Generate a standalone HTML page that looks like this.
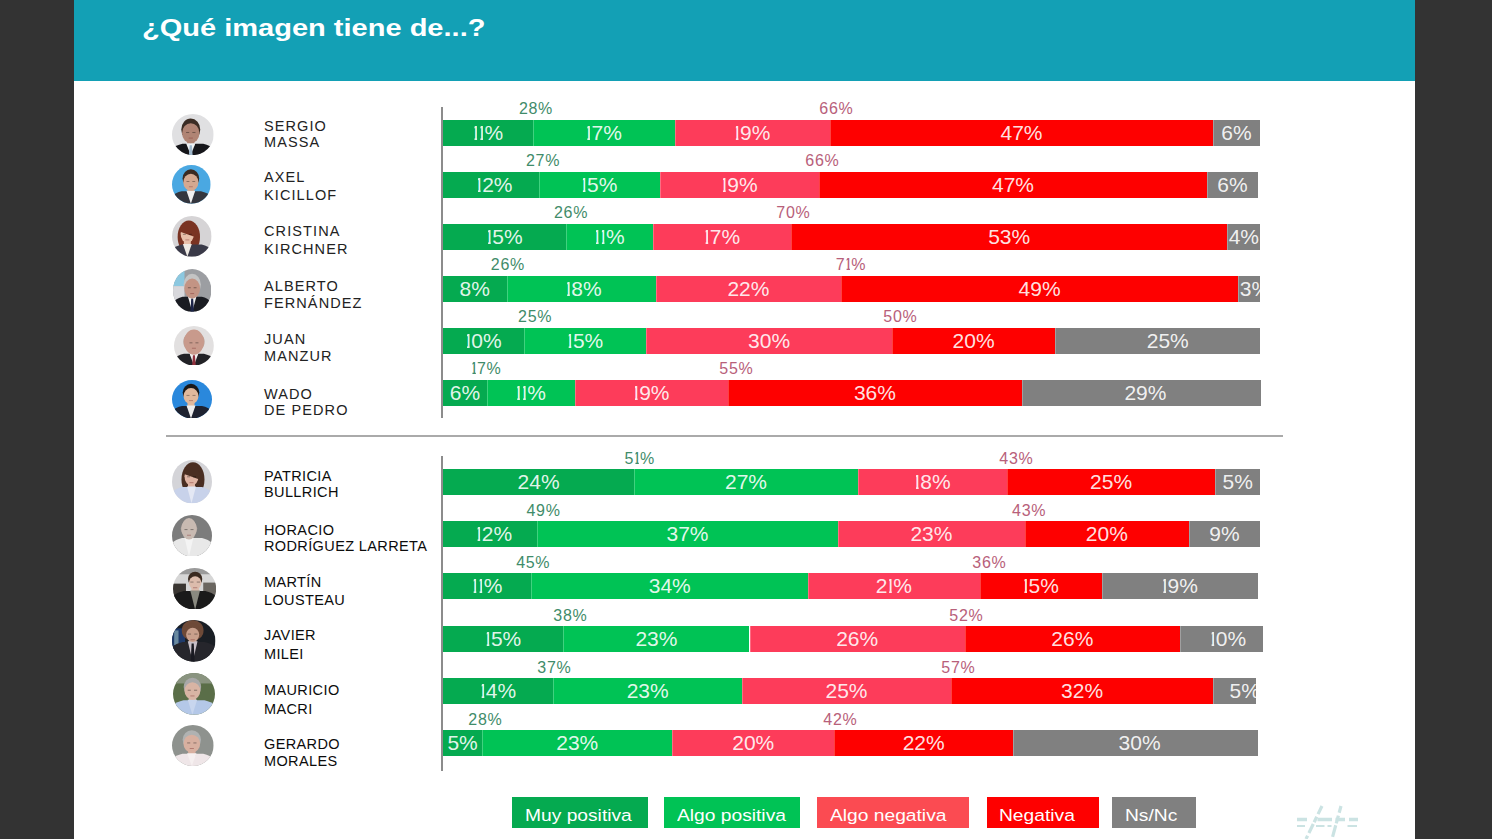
<!DOCTYPE html>
<html><head><meta charset="utf-8"><title>Imagen</title>
<style>
html,body{margin:0;padding:0}
body{width:1492px;height:839px;background:#333333;position:relative;overflow:hidden;font-family:"Liberation Sans",sans-serif}
#slide{position:absolute;left:74px;top:0;width:1341px;height:839px;background:#ffffff}
#hdr{position:absolute;left:74px;top:0;width:1341px;height:81px;background:#13a0b5}
#title{position:absolute;left:141.6px;top:13px;color:#fff;font-weight:bold;font-size:24px;line-height:30px;white-space:nowrap}
#title span{display:inline-block;transform:scaleX(1.209);transform-origin:0 0}
.ax{position:absolute;left:441px;width:2px;background:#8c8c8c}
#sep{position:absolute;left:166px;top:435px;width:1117px;height:2px;background:#aaaaaa}
.seg{position:absolute;height:26px;overflow:hidden;color:rgba(255,255,255,0.9);font-size:21px;line-height:26px;text-align:center;white-space:nowrap}
.seg i,.tl i{font-style:normal;display:inline-block;clip-path:inset(0 0.21em 0 0.222em);margin:0 -0.136em 0 -0.14em}
.tl{position:absolute;width:80px;text-align:center;font-size:16px;line-height:20px;white-space:nowrap;letter-spacing:0.7px;text-indent:0.7px}
.tl.g{color:#3f8c6a}
.tl.r{color:#b8607a}
.nm{position:absolute;left:264px;font-size:14.5px;line-height:14px;white-space:nowrap}
.nm.m{color:#222;letter-spacing:1.1px}
.nm.a{color:#0c0c0c;letter-spacing:0.38px}
.ph{position:absolute}
.lg{position:absolute;top:797px;height:31px;line-height:31px;color:#fff;font-size:16.3px;white-space:nowrap}
.lg span{position:absolute;top:2.7px;display:inline-block;transform:scaleX(1.18);transform-origin:0 0}
</style></head><body>
<div id="slide"></div>
<div id="hdr"></div>
<div id="title"><span>¿Qué imagen tiene de...?</span></div>
<div class="ax" style="top:107px;height:311px"></div>
<div class="ax" style="top:456px;height:315px"></div>
<div id="sep"></div>
<div class="seg" style="left:443px;top:120px;width:90px;background:#05aa50"><i>1</i><i>1</i>%</div>
<div class="seg" style="left:533px;top:120px;width:141.5px;background:#00c355;box-shadow:inset 1px 0 0 rgba(255,255,255,0.25)"><i>1</i>7%</div>
<div class="seg" style="left:674.5px;top:120px;width:155.5px;background:#fd3c5a;box-shadow:inset 1px 0 0 rgba(255,255,255,0.25)"><i>1</i>9%</div>
<div class="seg" style="left:830px;top:120px;width:383px;background:#fe0000;box-shadow:inset 1px 0 0 rgba(255,255,255,0.25)">47%</div>
<div class="seg" style="left:1213px;top:120px;width:47px;background:#808080;box-shadow:inset 1px 0 0 rgba(255,255,255,0.25)">6%</div>
<div class="tl g" style="left:495.6px;top:99px">28%</div>
<div class="tl r" style="left:796px;top:99px">66%</div>
<div class="seg" style="left:443px;top:172px;width:95.6px;background:#05aa50"><span style="position:absolute;left:51.4px;top:0;transform:translateX(-50%)"><i>1</i>2%</span></div>
<div class="seg" style="left:538.6px;top:172px;width:121.4px;background:#00c355;box-shadow:inset 1px 0 0 rgba(255,255,255,0.25)"><i>1</i>5%</div>
<div class="seg" style="left:660px;top:172px;width:159px;background:#fd3c5a;box-shadow:inset 1px 0 0 rgba(255,255,255,0.25)"><i>1</i>9%</div>
<div class="seg" style="left:819px;top:172px;width:388px;background:#fe0000;box-shadow:inset 1px 0 0 rgba(255,255,255,0.25)">47%</div>
<div class="seg" style="left:1207px;top:172px;width:51px;background:#808080;box-shadow:inset 1px 0 0 rgba(255,255,255,0.25)">6%</div>
<div class="tl g" style="left:502.7px;top:151px">27%</div>
<div class="tl r" style="left:782px;top:151px">66%</div>
<div class="seg" style="left:443px;top:224px;width:123px;background:#05aa50"><i>1</i>5%</div>
<div class="seg" style="left:566px;top:224px;width:87px;background:#00c355;box-shadow:inset 1px 0 0 rgba(255,255,255,0.25)"><i>1</i><i>1</i>%</div>
<div class="seg" style="left:653px;top:224px;width:138px;background:#fd3c5a;box-shadow:inset 1px 0 0 rgba(255,255,255,0.25)"><i>1</i>7%</div>
<div class="seg" style="left:791px;top:224px;width:436.4px;background:#fe0000;box-shadow:inset 1px 0 0 rgba(255,255,255,0.25)">53%</div>
<div class="seg" style="left:1227.4px;top:224px;width:32.9px;background:#808080;box-shadow:inset 1px 0 0 rgba(255,255,255,0.25)">4%</div>
<div class="tl g" style="left:530.7px;top:203px">26%</div>
<div class="tl r" style="left:753px;top:203px">70%</div>
<div class="seg" style="left:443px;top:276px;width:63.6px;background:#05aa50">8%</div>
<div class="seg" style="left:506.6px;top:276px;width:149.4px;background:#00c355;box-shadow:inset 1px 0 0 rgba(255,255,255,0.25)"><span style="position:absolute;left:77px;top:0;transform:translateX(-50%)"><i>1</i>8%</span></div>
<div class="seg" style="left:656px;top:276px;width:184.8px;background:#fd3c5a;box-shadow:inset 1px 0 0 rgba(255,255,255,0.25)">22%</div>
<div class="seg" style="left:840.8px;top:276px;width:397.5px;background:#fe0000;box-shadow:inset 1px 0 0 rgba(255,255,255,0.25)">49%</div>
<div class="seg" style="left:1238.3px;top:276px;width:22px;background:#808080;box-shadow:inset 1px 0 0 rgba(255,255,255,0.25);text-align:left"><span style="margin-left:1.5px">3%</span></div>
<div class="tl g" style="left:467.5px;top:255px">26%</div>
<div class="tl r" style="left:810.5px;top:255px">7<i>1</i>%</div>
<div class="seg" style="left:443px;top:328px;width:80.9px;background:#05aa50"><i>1</i>0%</div>
<div class="seg" style="left:523.9px;top:328px;width:122.5px;background:#00c355;box-shadow:inset 1px 0 0 rgba(255,255,255,0.25)"><i>1</i>5%</div>
<div class="seg" style="left:646.4px;top:328px;width:245.4px;background:#fd3c5a;box-shadow:inset 1px 0 0 rgba(255,255,255,0.25)">30%</div>
<div class="seg" style="left:891.8px;top:328px;width:163.6px;background:#fe0000;box-shadow:inset 1px 0 0 rgba(255,255,255,0.25)">20%</div>
<div class="seg" style="left:1055.4px;top:328px;width:204.7px;background:#808080;box-shadow:inset 1px 0 0 rgba(255,255,255,0.25)"><span style="position:absolute;left:112.4px;top:0;transform:translateX(-50%)">25%</span></div>
<div class="tl g" style="left:494.8px;top:307px">25%</div>
<div class="tl r" style="left:860px;top:307px">50%</div>
<div class="seg" style="left:443px;top:380px;width:43.9px;background:#05aa50">6%</div>
<div class="seg" style="left:486.9px;top:380px;width:87.8px;background:#00c355;box-shadow:inset 1px 0 0 rgba(255,255,255,0.25)"><i>1</i><i>1</i>%</div>
<div class="seg" style="left:574.7px;top:380px;width:153.4px;background:#fd3c5a;box-shadow:inset 1px 0 0 rgba(255,255,255,0.25)"><i>1</i>9%</div>
<div class="seg" style="left:728.1px;top:380px;width:293.7px;background:#fe0000;box-shadow:inset 1px 0 0 rgba(255,255,255,0.25)">36%</div>
<div class="seg" style="left:1021.8px;top:380px;width:239.1px;background:#808080;box-shadow:inset 1px 0 0 rgba(255,255,255,0.25)"><span style="position:absolute;left:123.6px;top:0;transform:translateX(-50%)">29%</span></div>
<div class="tl g" style="left:446px;top:359px"><i>1</i>7%</div>
<div class="tl r" style="left:696px;top:359px">55%</div>
<div class="seg" style="left:443px;top:469px;width:191.2px;background:#05aa50">24%</div>
<div class="seg" style="left:634.2px;top:469px;width:223.7px;background:#00c355;box-shadow:inset 1px 0 0 rgba(255,255,255,0.25)">27%</div>
<div class="seg" style="left:857.9px;top:469px;width:149.1px;background:#fd3c5a;box-shadow:inset 1px 0 0 rgba(255,255,255,0.25)"><i>1</i>8%</div>
<div class="seg" style="left:1007px;top:469px;width:208.2px;background:#fe0000;box-shadow:inset 1px 0 0 rgba(255,255,255,0.25)">25%</div>
<div class="seg" style="left:1215.2px;top:469px;width:45.1px;background:#808080;box-shadow:inset 1px 0 0 rgba(255,255,255,0.25)">5%</div>
<div class="tl g" style="left:599.4px;top:449px">5<i>1</i>%</div>
<div class="tl r" style="left:976px;top:449px">43%</div>
<div class="seg" style="left:443px;top:521px;width:94.2px;background:#05aa50"><span style="position:absolute;left:51px;top:0;transform:translateX(-50%)"><i>1</i>2%</span></div>
<div class="seg" style="left:537.2px;top:521px;width:300.6px;background:#00c355;box-shadow:inset 1px 0 0 rgba(255,255,255,0.25)">37%</div>
<div class="seg" style="left:837.8px;top:521px;width:187.2px;background:#fd3c5a;box-shadow:inset 1px 0 0 rgba(255,255,255,0.25)">23%</div>
<div class="seg" style="left:1025px;top:521px;width:163.6px;background:#fe0000;box-shadow:inset 1px 0 0 rgba(255,255,255,0.25)">20%</div>
<div class="seg" style="left:1188.6px;top:521px;width:71.7px;background:#808080;box-shadow:inset 1px 0 0 rgba(255,255,255,0.25)">9%</div>
<div class="tl g" style="left:503.2px;top:501px">49%</div>
<div class="tl r" style="left:988.8px;top:501px">43%</div>
<div class="seg" style="left:443px;top:573px;width:88.4px;background:#05aa50"><i>1</i><i>1</i>%</div>
<div class="seg" style="left:531.4px;top:573px;width:276.8px;background:#00c355;box-shadow:inset 1px 0 0 rgba(255,255,255,0.25)">34%</div>
<div class="seg" style="left:808.2px;top:573px;width:171.4px;background:#fd3c5a;box-shadow:inset 1px 0 0 rgba(255,255,255,0.25)">2<i>1</i>%</div>
<div class="seg" style="left:979.6px;top:573px;width:122.4px;background:#fe0000;box-shadow:inset 1px 0 0 rgba(255,255,255,0.25)"><i>1</i>5%</div>
<div class="seg" style="left:1102px;top:573px;width:155.5px;background:#808080;box-shadow:inset 1px 0 0 rgba(255,255,255,0.25)"><i>1</i>9%</div>
<div class="tl g" style="left:492.9px;top:553px">45%</div>
<div class="tl r" style="left:949px;top:553px">36%</div>
<div class="seg" style="left:443px;top:626px;width:120.3px;background:#05aa50"><i>1</i>5%</div>
<div class="seg" style="left:563.3px;top:626px;width:186.2px;background:#00c355;box-shadow:inset 1px 0 0 rgba(255,255,255,0.25)">23%</div>
<div class="seg" style="left:749.5px;top:626px;width:215.3px;background:#fd3c5a;box-shadow:inset 1px 0 0 rgba(255,255,255,0.25)">26%</div>
<div class="seg" style="left:964.8px;top:626px;width:215px;background:#fe0000;box-shadow:inset 1px 0 0 rgba(255,255,255,0.25)">26%</div>
<div class="seg" style="left:1179.8px;top:626px;width:83px;background:#808080;box-shadow:inset 1px 0 0 rgba(255,255,255,0.25)"><span style="position:absolute;left:48.2px;top:0;transform:translateX(-50%)"><i>1</i>0%</span></div>
<div class="tl g" style="left:530px;top:606px">38%</div>
<div class="tl r" style="left:926px;top:606px">52%</div>
<div class="seg" style="left:443px;top:678px;width:110.2px;background:#05aa50"><i>1</i>4%</div>
<div class="seg" style="left:553.2px;top:678px;width:189px;background:#00c355;box-shadow:inset 1px 0 0 rgba(255,255,255,0.25)">23%</div>
<div class="seg" style="left:742.2px;top:678px;width:208.7px;background:#fd3c5a;box-shadow:inset 1px 0 0 rgba(255,255,255,0.25)">25%</div>
<div class="seg" style="left:950.9px;top:678px;width:262.4px;background:#fe0000;box-shadow:inset 1px 0 0 rgba(255,255,255,0.25)">32%</div>
<div class="seg" style="left:1213.3px;top:678px;width:42.8px;background:#808080;box-shadow:inset 1px 0 0 rgba(255,255,255,0.25);text-align:left"><span style="margin-left:16.3px">5%</span></div>
<div class="tl g" style="left:514px;top:658px">37%</div>
<div class="tl r" style="left:918px;top:658px">57%</div>
<div class="seg" style="left:443px;top:730px;width:39.2px;background:#05aa50">5%</div>
<div class="seg" style="left:482.2px;top:730px;width:190.1px;background:#00c355;box-shadow:inset 1px 0 0 rgba(255,255,255,0.25)">23%</div>
<div class="seg" style="left:672.3px;top:730px;width:161.9px;background:#fd3c5a;box-shadow:inset 1px 0 0 rgba(255,255,255,0.25)">20%</div>
<div class="seg" style="left:834.2px;top:730px;width:179px;background:#fe0000;box-shadow:inset 1px 0 0 rgba(255,255,255,0.25)">22%</div>
<div class="seg" style="left:1013.2px;top:730px;width:244.7px;background:#808080;box-shadow:inset 1px 0 0 rgba(255,255,255,0.25)"><span style="position:absolute;left:126.4px;top:0;transform:translateX(-50%)">30%</span></div>
<div class="tl g" style="left:445px;top:710px">28%</div>
<div class="tl r" style="left:800px;top:710px">42%</div>
<div class="nm m" style="top:118.5px">SERGIO</div>
<div class="nm m" style="top:134.5px">MASSA</div>
<div class="nm m" style="top:170px">AXEL</div>
<div class="nm m" style="top:188.1px">KICILLOF</div>
<div class="nm m" style="top:224.4px">CRISTINA</div>
<div class="nm m" style="top:241.9px">KIRCHNER</div>
<div class="nm m" style="top:278.9px">ALBERTO</div>
<div class="nm m" style="top:296.4px">FERNÁNDEZ</div>
<div class="nm m" style="top:332.3px">JUAN</div>
<div class="nm m" style="top:348.5px">MANZUR</div>
<div class="nm m" style="top:386.6px">WADO</div>
<div class="nm m" style="top:402.6px">DE PEDRO</div>
<div class="nm a" style="top:468.5px">PATRICIA</div>
<div class="nm a" style="top:485.2px">BULLRICH</div>
<div class="nm a" style="top:522.7px">HORACIO</div>
<div class="nm a" style="top:539.4px">RODRÍGUEZ LARRETA</div>
<div class="nm a" style="top:574.7px">MARTÍN</div>
<div class="nm a" style="top:593px">LOUSTEAU</div>
<div class="nm a" style="top:628.2px">JAVIER</div>
<div class="nm a" style="top:647px">MILEI</div>
<div class="nm a" style="top:682.5px">MAURICIO</div>
<div class="nm a" style="top:701.5px">MACRI</div>
<div class="nm a" style="top:736.5px">GERARDO</div>
<div class="nm a" style="top:753.8px">MORALES</div>
<svg class="ph" style="left:172.2px;top:113.6px" width="41.7" height="41.1" viewBox="0 0 40 40" preserveAspectRatio="none"><clipPath id="pc0"><circle cx="20" cy="20" r="20"/></clipPath><g clip-path="url(#pc0)"><rect width="40" height="40" fill="#e0e0e2"/><path d="M-2 40 L-2 37 Q1 31 10 29 L30 29 Q39 31 42 37 L42 40 Z" fill="#16161a"/><rect x="14.5" y="24.5" width="7" height="6.5" fill="#b08474"/><path d="M13.5 28.5 L22.5 28.5 L18 40 Z" fill="#eef2f4"/><path d="M17 30.5 L19 30.5 L19.8 40 L16.2 40 Z" fill="#a0b8cc"/><ellipse cx="18" cy="15" rx="9.1" ry="10.5" fill="#3a2c24"/><ellipse cx="18" cy="18.7" rx="8.3" ry="9.8" fill="#b08474"/><rect x="13.5" y="17.5" width="3" height="1" fill="#000" opacity="0.35"/><rect x="19.5" y="17.5" width="3" height="1" fill="#000" opacity="0.35"/><rect x="16" y="23" width="4" height="0.9" fill="#803030" opacity="0.45"/></g></svg>
<svg class="ph" style="left:172.2px;top:165px" width="38.7" height="38.8" viewBox="0 0 40 40" preserveAspectRatio="none"><clipPath id="pc1"><circle cx="20" cy="20" r="20"/></clipPath><g clip-path="url(#pc1)"><rect width="40" height="40" fill="#4aa8e2"/><path d="M-2 40 L-2 35 Q1 29 10 27 L30 27 Q39 29 42 35 L42 40 Z" fill="#34363e"/><rect x="16" y="22.5" width="7" height="6.5" fill="#d4a890"/><path d="M15 26.5 L24 26.5 L19.5 40 Z" fill="#f0f0f0"/><ellipse cx="19.5" cy="14" rx="8.6" ry="9.5" fill="#3a2a22"/><ellipse cx="19.5" cy="17.7" rx="7.8" ry="8.8" fill="#d4a890"/><rect x="15" y="16.5" width="3" height="1" fill="#000" opacity="0.35"/><rect x="21" y="16.5" width="3" height="1" fill="#000" opacity="0.35"/><rect x="17.5" y="22" width="4" height="0.9" fill="#803030" opacity="0.45"/></g></svg>
<svg class="ph" style="left:172.2px;top:216.2px" width="39.6" height="40.8" viewBox="0 0 40 40" preserveAspectRatio="none"><clipPath id="pc2"><circle cx="20" cy="20" r="20"/></clipPath><g clip-path="url(#pc2)"><rect width="40" height="40" fill="#d6d4d6"/><ellipse cx="17" cy="20.5" rx="11.3" ry="16" fill="#7a3322"/><path d="M-2 40 L-2 36 Q1 30 10 28 L30 28 Q39 30 42 36 L42 40 Z" fill="#3a3a48"/><rect x="12" y="22.5" width="7" height="7.5" fill="#e8c0aa"/><path d="M11 27.5 L20 27.5 L15.5 40 Z" fill="#eeeae4"/><ellipse cx="15.5" cy="17.5" rx="6.8" ry="9" fill="#e8c0aa"/><path d="M8.2 15.5 Q8.7 6.5 17.5 7 Q24.3 8.5 23.3 20.5 Z" fill="#7a3322"/><rect x="11" y="17.5" width="3" height="1" fill="#000" opacity="0.35"/><rect x="17" y="17.5" width="3" height="1" fill="#000" opacity="0.35"/><rect x="13.5" y="23" width="4" height="0.9" fill="#803030" opacity="0.45"/></g></svg>
<svg class="ph" style="left:172.5px;top:269.2px" width="38.4" height="42.8" viewBox="0 0 40 40" preserveAspectRatio="none"><clipPath id="pc3"><circle cx="20" cy="20" r="20"/></clipPath><g clip-path="url(#pc3)"><rect width="40" height="40" fill="#9c9ea2"/><rect x="0" y="0" width="12" height="16" fill="#8cc8e0"/><rect x="0" y="16" width="12" height="14" fill="#d8d8dc"/><path d="M-2 40 L-2 34 Q1 28 10 26 L30 26 Q39 28 42 34 L42 40 Z" fill="#1a1c22"/><rect x="16.5" y="23.5" width="7" height="4.5" fill="#c39484"/><path d="M15.5 25.5 L24.5 25.5 L20 40 Z" fill="#f0f0f0"/><path d="M19 27.5 L21 27.5 L21.8 40 L18.2 40 Z" fill="#1c2448"/><ellipse cx="20" cy="14.5" rx="9" ry="10" fill="#c4c4c4"/><ellipse cx="20" cy="18.2" rx="8.2" ry="9.3" fill="#c39484"/><rect x="15.5" y="17" width="3" height="1" fill="#000" opacity="0.35"/><rect x="21.5" y="17" width="3" height="1" fill="#000" opacity="0.35"/><rect x="18" y="22.5" width="4" height="0.9" fill="#803030" opacity="0.45"/></g></svg>
<svg class="ph" style="left:174.1px;top:325.7px" width="39.9" height="39.6" viewBox="0 0 40 40" preserveAspectRatio="none"><clipPath id="pc4"><circle cx="20" cy="20" r="20"/></clipPath><g clip-path="url(#pc4)"><rect width="40" height="40" fill="#e2e0e0"/><path d="M-2 40 L-2 36 Q1 30 10 28 L30 28 Q39 30 42 36 L42 40 Z" fill="#222226"/><rect x="16.5" y="25" width="7" height="5" fill="#c89a8c"/><path d="M15.5 27.5 L24.5 27.5 L20 40 Z" fill="#f0f0f0"/><path d="M19 29.5 L21 29.5 L21.8 40 L18.2 40 Z" fill="#90303c"/><ellipse cx="20" cy="16" rx="10.7" ry="10.5" fill="#bca096"/><ellipse cx="20" cy="16.5" rx="10" ry="12.5" fill="#c89a8c"/><ellipse cx="20" cy="15.5" rx="9.7" ry="12" fill="#c89a8c"/><rect x="15.5" y="16.5" width="3" height="1" fill="#000" opacity="0.35"/><rect x="21.5" y="16.5" width="3" height="1" fill="#000" opacity="0.35"/><rect x="18" y="22" width="4" height="0.9" fill="#803030" opacity="0.45"/></g></svg>
<svg class="ph" style="left:172px;top:379.8px" width="40" height="38.5" viewBox="0 0 40 40" preserveAspectRatio="none"><clipPath id="pc5"><circle cx="20" cy="20" r="20"/></clipPath><g clip-path="url(#pc5)"><rect width="40" height="40" fill="#2a88dc"/><path d="M-2 40 L-2 35 Q1 29 10 27 L30 27 Q39 29 42 35 L42 40 Z" fill="#1e2230"/><rect x="15.5" y="21" width="7" height="8" fill="#e0b89c"/><path d="M14.5 26.5 L23.5 26.5 L19 40 Z" fill="#eeeeee"/><ellipse cx="19" cy="13" rx="8.3" ry="9" fill="#1a1818"/><ellipse cx="19" cy="16.7" rx="7.5" ry="8.3" fill="#e0b89c"/><rect x="14.5" y="15.5" width="3" height="1" fill="#000" opacity="0.35"/><rect x="20.5" y="15.5" width="3" height="1" fill="#000" opacity="0.35"/><rect x="17" y="21" width="4" height="0.9" fill="#803030" opacity="0.45"/></g></svg>
<svg class="ph" style="left:172px;top:460.4px" width="40" height="43.3" viewBox="0 0 40 40" preserveAspectRatio="none"><clipPath id="pc6"><circle cx="20" cy="20" r="20"/></clipPath><g clip-path="url(#pc6)"><rect width="40" height="40" fill="#d4d4d8"/><ellipse cx="21" cy="18" rx="11.5" ry="16" fill="#4a2e22"/><path d="M-2 40 L-2 33 Q1 27 10 25 L30 25 Q39 27 42 33 L42 40 Z" fill="#c8d2ea"/><rect x="16" y="20" width="7" height="7" fill="#dfb4a4"/><path d="M15 24.5 L24 24.5 L19.5 40 Z" fill="#e4e8f4"/><ellipse cx="19.5" cy="15" rx="7" ry="9" fill="#dfb4a4"/><path d="M12 13 Q12.5 4 21.5 4.5 Q28.5 6 27.5 18 Z" fill="#4a2e22"/><rect x="15" y="15" width="3" height="1" fill="#000" opacity="0.35"/><rect x="21" y="15" width="3" height="1" fill="#000" opacity="0.35"/><rect x="17.5" y="20.5" width="4" height="0.9" fill="#803030" opacity="0.45"/></g></svg>
<svg class="ph" style="left:172px;top:514.8px" width="40" height="41.6" viewBox="0 0 40 40" preserveAspectRatio="none"><clipPath id="pc7"><circle cx="20" cy="20" r="20"/></clipPath><g clip-path="url(#pc7)"><rect width="40" height="40" fill="#7c7c7c"/><path d="M-2 40 L-2 30 Q1 24 10 22 L30 22 Q39 24 42 30 L42 40 Z" fill="#e8e8e8"/><rect x="13.5" y="19.5" width="7" height="4.5" fill="#c8bab2"/><path d="M12.5 21.5 L21.5 21.5 L17 40 Z" fill="#f4f4f4"/><ellipse cx="17" cy="13" rx="8.2" ry="8" fill="#b8aca6"/><ellipse cx="17" cy="13.5" rx="7.5" ry="10" fill="#c8bab2"/><ellipse cx="17" cy="12.5" rx="7.2" ry="9.5" fill="#c8bab2"/><rect x="12.5" y="13.5" width="3" height="1" fill="#000" opacity="0.35"/><rect x="18.5" y="13.5" width="3" height="1" fill="#000" opacity="0.35"/><rect x="15" y="19" width="4" height="0.9" fill="#803030" opacity="0.45"/></g></svg>
<svg class="ph" style="left:172.5px;top:567.6px" width="43.2" height="41.7" viewBox="0 0 40 40" preserveAspectRatio="none"><clipPath id="pc8"><circle cx="20" cy="20" r="20"/></clipPath><g clip-path="url(#pc8)"><rect width="40" height="40" fill="#d6d6d6"/><rect y="0" width="40" height="6" fill="#9a9a9a"/><rect x="0" y="15" width="12" height="25" fill="#3a3632"/><rect x="28" y="14" width="12" height="12" fill="#6a6660"/><path d="M-2 40 L-2 30 Q1 24 10 22 L30 22 Q39 24 42 30 L42 40 Z" fill="#1a1a1a"/><rect x="17" y="16.5" width="7" height="7.5" fill="#dcbcac"/><path d="M16 21.5 L25 21.5 L20.5 40 Z" fill="#8a8a80"/><ellipse cx="20.5" cy="10.5" rx="6.6" ry="7" fill="#3a2a20"/><ellipse cx="20.5" cy="14.2" rx="5.8" ry="6.3" fill="#dcbcac"/><rect x="16" y="13" width="3" height="1" fill="#000" opacity="0.35"/><rect x="22" y="13" width="3" height="1" fill="#000" opacity="0.35"/><rect x="18.5" y="18.5" width="4" height="0.9" fill="#803030" opacity="0.45"/></g></svg>
<svg class="ph" style="left:172.4px;top:620.1px" width="43.5" height="41.7" viewBox="0 0 40 40" preserveAspectRatio="none"><clipPath id="pc9"><circle cx="20" cy="20" r="20"/></clipPath><g clip-path="url(#pc9)"><rect width="40" height="40" fill="#1a1e24"/><rect x="0" y="8" width="12" height="22" fill="#1e3a6a"/><rect x="2" y="10" width="4" height="14" fill="#6a8aa0"/><ellipse cx="19" cy="10" rx="10" ry="10" fill="#6e4a38"/><path d="M-2 40 L-2 29 Q1 23 10 21 L30 21 Q39 23 42 29 L42 40 Z" fill="#26262c"/><rect x="15.5" y="17" width="7" height="6" fill="#c8a08c"/><path d="M14.5 20.5 L23.5 20.5 L19 40 Z" fill="#c8c0c8"/><path d="M18 22.5 L20 22.5 L20.8 40 L17.2 40 Z" fill="#1a1a22"/><ellipse cx="19" cy="10.5" rx="6.8" ry="7.5" fill="#6e4a38"/><ellipse cx="19" cy="14.2" rx="6" ry="6.8" fill="#c8a08c"/><rect x="14.5" y="13" width="3" height="1" fill="#000" opacity="0.35"/><rect x="20.5" y="13" width="3" height="1" fill="#000" opacity="0.35"/><rect x="17" y="18.5" width="4" height="0.9" fill="#803030" opacity="0.45"/></g></svg>
<svg class="ph" style="left:172.6px;top:673.1px" width="42" height="41.8" viewBox="0 0 40 40" preserveAspectRatio="none"><clipPath id="pc10"><circle cx="20" cy="20" r="20"/></clipPath><g clip-path="url(#pc10)"><rect width="40" height="40" fill="#5a6e48"/><rect x="0" y="0" width="40" height="10" fill="#8a9480"/><path d="M-2 40 L-2 34 Q1 28 10 26 L30 26 Q39 28 42 34 L42 40 Z" fill="#b4c8e8"/><rect x="15" y="21.5" width="7" height="6.5" fill="#d8b4a4"/><path d="M14 25.5 L23 25.5 L18.5 40 Z" fill="#c8d6ee"/><ellipse cx="18.5" cy="13.5" rx="8.3" ry="9" fill="#a8a8a8"/><ellipse cx="18.5" cy="17.2" rx="7.5" ry="8.3" fill="#d8b4a4"/><rect x="14" y="16" width="3" height="1" fill="#000" opacity="0.35"/><rect x="20" y="16" width="3" height="1" fill="#000" opacity="0.35"/><rect x="16.5" y="21.5" width="4" height="0.9" fill="#803030" opacity="0.45"/></g></svg>
<svg class="ph" style="left:172.2px;top:725px" width="41.7" height="41" viewBox="0 0 40 40" preserveAspectRatio="none"><clipPath id="pc11"><circle cx="20" cy="20" r="20"/></clipPath><g clip-path="url(#pc11)"><rect width="40" height="40" fill="#8e928e"/><path d="M-2 40 L-2 36 Q1 30 10 28 L30 28 Q39 30 42 36 L42 40 Z" fill="#efe6e8"/><rect x="15.5" y="23" width="7" height="7" fill="#d8b0a0"/><path d="M14.5 27.5 L23.5 27.5 L19 40 Z" fill="#f6f0f0"/><ellipse cx="19" cy="14.5" rx="8.8" ry="9.5" fill="#b0b2b2"/><ellipse cx="19" cy="18.2" rx="8" ry="8.8" fill="#d8b0a0"/><rect x="14.5" y="17" width="3" height="1" fill="#000" opacity="0.35"/><rect x="20.5" y="17" width="3" height="1" fill="#000" opacity="0.35"/><rect x="17" y="22.5" width="4" height="0.9" fill="#803030" opacity="0.45"/></g></svg>
<div class="lg" style="left:512px;width:136px;background:#05aa50"><span style="left:12.5px">Muy positiva</span></div>
<div class="lg" style="left:664px;width:136px;background:#00c355"><span style="left:13px">Algo positiva</span></div>
<div class="lg" style="left:817px;width:152px;background:#fb4b52"><span style="left:13.1px">Algo negativa</span></div>
<div class="lg" style="left:987px;width:112px;background:#fe0000"><span style="left:12.2px">Negativa</span></div>
<div class="lg" style="left:1112px;width:84px;background:#808080"><span style="left:12.5px">Ns/Nc</span></div>
<svg style="position:absolute;left:1290px;top:800px" width="75" height="39" viewBox="1290 800 75 39">
<g stroke="#cbe3e3" stroke-linecap="butt" fill="none">
<path d="M1322 806 L1306 839" stroke-width="3.2" stroke-dasharray="9 3 6 2 10 3"/>
<path d="M1341 806 L1332 839" stroke-width="3.2" stroke-dasharray="7 3 8 2 12 3"/>
<path d="M1297 819.5 L1307 819.5 M1317.5 819.5 L1332 819.5 M1335.5 819.5 L1345 819.5 M1349 819.5 L1358 819.5" stroke-width="3.5"/>
<path d="M1297 826 L1305 826 M1316 826 L1324.5 826 M1327.5 826 L1331.5 826 M1347.5 826 L1357 826" stroke-width="2.2"/>
</g></svg>
</body></html>
